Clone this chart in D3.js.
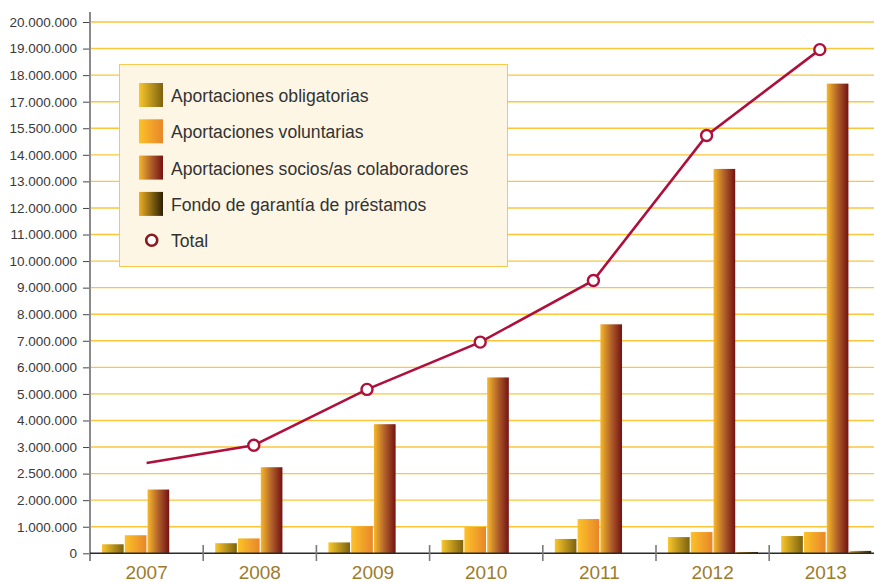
<!DOCTYPE html>
<html>
<head>
<meta charset="utf-8">
<script src="https://cdn.jsdelivr.net/npm/d3@7"></script>
<style>
  body { margin: 0; background: #fff; }
  svg { display: block; font-family: "Liberation Sans", Arial, sans-serif; }
</style>
</head>
<body>
<svg id="chart" width="874" height="583"></svg>
<script>
const years = ['2007', '2008', '2009', '2010', '2011', '2012', '2013'];
const seriesNames = [
  'Aportaciones obligatorias',
  'Aportaciones voluntarias',
  'Aportaciones socios/as colaboradores',
  'Fondo de garantía de préstamos',
];
const obligatorias = [340000, 380000, 410000, 500000, 540000, 610000, 650000];
const voluntarias = [680000, 560000, 1020000, 990000, 1290000, 800000, 800000];
const socios = [2200000, 2620000, 3860000, 5620000, 7620000, 13470000, 17680000];
const fondo = [0, 0, 0, 0, 0, 50000, 90000];
const totals = [2700000, 3070000, 5170000, 6950000, 9270000, 15090000, 18960000];
const tickValues = [0, 1000000, 2000000, 2500000, 3000000, 4000000, 5000000, 6000000,
  7000000, 8000000, 9000000, 10000000, 11000000, 12000000, 13000000, 14000000,
  15500000, 17000000, 18000000, 19000000, 20000000];

const svg = d3.select('#chart');
const y0 = 553.3;
const step = (y0 - 22) / 20;
const left = 90;

// the axis labels are evenly spaced, so the scale is piecewise over the ticks
const y = d3.scaleLinear()
  .domain(tickValues)
  .range(tickValues.map((d, i) => y0 - i * step));

const x = d3.scaleBand()
  .domain(years)
  .range([left, left + 7 * 113.2]);

const xInner = d3.scaleBand()
  .domain(seriesNames)
  .range([12, 102])
  .paddingInner(0.05);

const gradients = [
  ['#fac62c', '#7c6210'],
  ['#fcc228', '#e8862a'],
  ['#f6b82a', '#b0602a', '#741212'],
  ['#eeb024', '#2c2004'],
];

const defs = svg.append('defs');
gradients.forEach((g, i) => {
  const lg = defs.append('linearGradient')
    .attr('id', `grad${i}`)
    .attr('x1', '0%').attr('x2', '100%')
    .attr('y1', '0%').attr('y2', '0%');
  g.forEach((c, j) => {
    lg.append('stop')
      .attr('offset', `${(j / (g.length - 1)) * 100}%`)
      .attr('stop-color', c);
  });
});

// grid lines
svg.append('g')
  .selectAll('line')
  .data(tickValues.slice(1))
  .enter()
  .append('line')
  .attr('x1', left)
  .attr('x2', 874)
  .attr('y1', (d) => y(d))
  .attr('y2', (d) => y(d))
  .attr('stroke', '#fbc63a')
  .attr('stroke-width', 1.4);

// y axis
const yAxis = svg.append('g')
  .attr('transform', `translate(${left},0)`)
  .call(d3.axisLeft(y).tickValues(tickValues).tickSize(7).tickPadding(6)
    .tickFormat((d) => (d === 0 ? '0' : d3.format(',')(d).replace(/,/g, '.'))));
yAxis.select('.domain').remove();
yAxis.selectAll('.tick line').attr('stroke', '#444');
yAxis.selectAll('.tick text')
  .attr('fill', '#3a3a3a')
  .style('font-size', '13.5px')
  .style('font-family', '"Liberation Sans", Arial, sans-serif');

svg.append('line')
  .attr('x1', left).attr('x2', left)
  .attr('y1', 12).attr('y2', 561)
  .attr('stroke', '#8a8a8a')
  .attr('stroke-width', 2);

// bars
const seriesData = [obligatorias, voluntarias, socios, fondo];
const groups = svg.append('g')
  .selectAll('g')
  .data(years)
  .enter()
  .append('g')
  .attr('transform', (d) => `translate(${x(d)},0)`);

groups.selectAll('rect')
  .data((d, i) => seriesNames.map((s, k) => ({ s, k, v: seriesData[k][i] })))
  .enter()
  .append('rect')
  .attr('x', (d) => xInner(d.s))
  .attr('width', xInner.bandwidth())
  .attr('y', (d) => y(d.v))
  .attr('height', (d) => y0 - y(d.v))
  .attr('fill', (d) => `url(#grad${d.k})`);

// x axis
svg.append('line')
  .attr('x1', left).attr('x2', 874)
  .attr('y1', y0).attr('y2', y0)
  .attr('stroke', '#2a2a2a')
  .attr('stroke-width', 1.5);

svg.append('g')
  .selectAll('line')
  .data(years.slice(1))
  .enter()
  .append('line')
  .attr('x1', (d) => x(d))
  .attr('x2', (d) => x(d))
  .attr('y1', 545)
  .attr('y2', 561)
  .attr('stroke', '#7a7a7a')
  .attr('stroke-width', 1.6);

svg.append('g')
  .selectAll('text')
  .data(years)
  .enter()
  .append('text')
  .attr('x', (d) => x(d) + x.bandwidth() / 2)
  .attr('y', 579)
  .attr('text-anchor', 'middle')
  .attr('fill', '#9c7c2c')
  .style('font-size', '19px')
  .text((d) => d);

// total line
const lineX = (d) => x(d) + x.bandwidth() / 2 - 6;
const line = d3.line()
  .x((d, i) => (i === 0 ? lineX(years[i]) + 6 : lineX(years[i])))
  .y((d) => y(d));

svg.append('path')
  .datum(totals)
  .attr('d', line)
  .attr('fill', 'none')
  .attr('stroke', '#ae0f3b')
  .attr('stroke-width', 2.6);

svg.append('g')
  .selectAll('circle')
  .data(totals.slice(1))
  .enter()
  .append('circle')
  .attr('cx', (d, i) => lineX(years[i + 1]))
  .attr('cy', (d) => y(d))
  .attr('r', 5.5)
  .attr('fill', '#fff')
  .attr('stroke', '#ae0f3b')
  .attr('stroke-width', 2.4);

// legend
const legend = svg.append('g');
legend.append('rect')
  .attr('x', 119.5).attr('y', 64.5)
  .attr('width', 388).attr('height', 202)
  .attr('fill', '#fdf6e5')
  .attr('stroke', '#f8c94a')
  .attr('stroke-width', 1);

const rowY = (i) => 83 + i * 36.3;

legend.selectAll('.sw')
  .data(seriesNames)
  .enter()
  .append('rect')
  .attr('x', 139)
  .attr('y', (d, i) => rowY(i))
  .attr('width', 24)
  .attr('height', 24)
  .attr('fill', (d, i) => `url(#grad${i})`);

legend.selectAll('.lab')
  .data(seriesNames.concat(['Total']))
  .enter()
  .append('text')
  .attr('x', 171)
  .attr('y', (d, i) => rowY(i) + 19)
  .attr('fill', '#333')
  .style('font-size', '17.6px')
  .text((d) => d);

legend.append('circle')
  .attr('cx', 151.7)
  .attr('cy', rowY(4) + 12)
  .attr('r', 5.5)
  .attr('fill', '#fff')
  .attr('stroke', '#8a1a1e')
  .attr('stroke-width', 2.6);
</script>
</body>
</html>
